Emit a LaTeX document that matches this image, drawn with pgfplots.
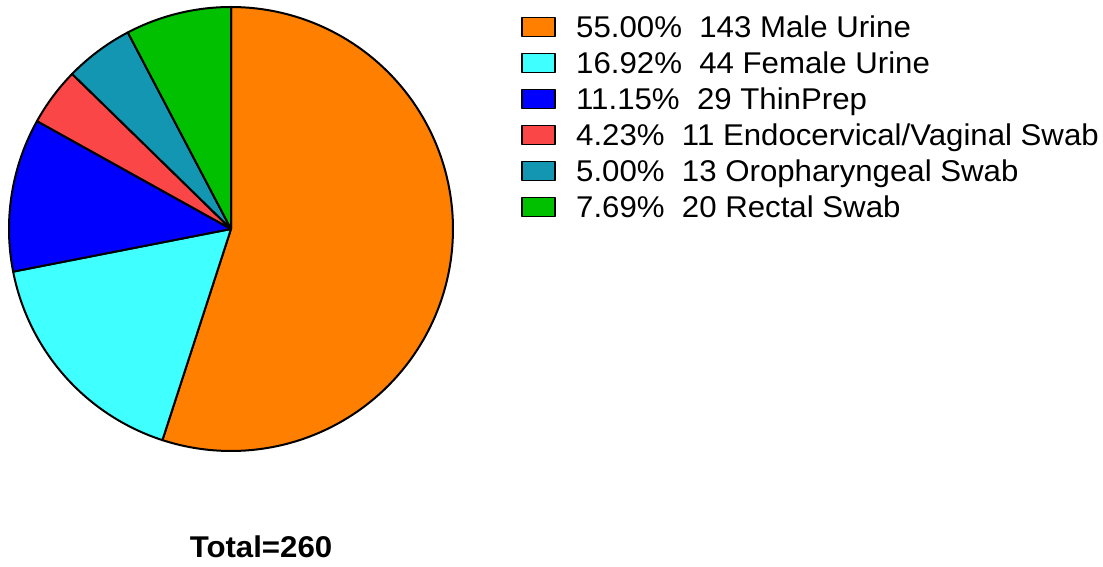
\documentclass[border=0pt]{standalone}
\usepackage{fontspec}
\setmainfont{Liberation Sans}[FakeStretch=1.04]
\usepackage{pgfplots}
\pgfplotsset{compat=1.18}
\definecolor{cMale}{HTML}{FF8000}
\definecolor{cFemale}{HTML}{40FFFF}
\definecolor{cThin}{HTML}{0000FF}
\definecolor{cEndo}{HTML}{FA4646}
\definecolor{cOro}{HTML}{1296B2}
\definecolor{cRect}{HTML}{00C000}
% counts: 143, 44, 29, 11, 13, 20 (total 260)
\def\tot{260}
\pgfmathsetmacro\aA{90}
\pgfmathsetmacro\aB{90-(143)/\tot*360}
\pgfmathsetmacro\aC{90-(143+44)/\tot*360}
\pgfmathsetmacro\aD{90-(143+44+29)/\tot*360}
\pgfmathsetmacro\aE{90-(143+44+29+11)/\tot*360}
\pgfmathsetmacro\aF{90-(143+44+29+11+13)/\tot*360}
\pgfmathsetmacro\aG{90-(143+44+29+11+13+20)/\tot*360}
\newcommand\slice[3]{%
  \addplot[fill=#1, draw=black, line width=2pt, line join=round, domain=#2:#3, samples=120]
    ({231+222*cos(x)},{-229+222*sin(x)}) -- (axis cs:231,-229) -- cycle;}
\begin{document}
\begin{tikzpicture}
\begin{axis}[
  scale only axis, width=1103pt, height=567pt,
  xmin=0, xmax=1103, ymin=-567, ymax=0,
  hide axis, clip=false,
  area legend,
  legend image code/.code={\draw[#1, line width=1.5pt] (0pt,-9.5pt) rectangle (33pt,9.5pt);},
  legend style={draw=none, fill=none, at={(axis cs:521,-15)}, anchor=north west,
    inner sep=0pt, row sep=12pt, column sep=20.5pt,
    font=\fontsize{30}{36}\selectfont,
    nodes={inner sep=0pt, text height=22pt, text depth=2pt}},
  legend cell align=left,
]
\path (axis cs:0,0) rectangle (axis cs:1103,-567);
\slice{cMale}{\aB}{\aA}
\addlegendentry{55.00\%\ \ 143 Male Urine}
\slice{cFemale}{\aC}{\aB}
\addlegendentry{16.92\%\ \ 44 Female Urine}
\slice{cThin}{\aD}{\aC}
\addlegendentry{11.15\%\ \ 29 ThinPrep}
\slice{cEndo}{\aE}{\aD}
\addlegendentry{4.23\%\ \ 11 Endocervical/Vaginal Swab}
\slice{cOro}{\aF}{\aE}
\addlegendentry{5.00\%\ \ 13 Oropharyngeal Swab}
\slice{cRect}{\aG}{\aF}
\addlegendentry{7.69\%\ \ 20 Rectal Swab}
\node[anchor=base, font=\fontsize{30}{36}\selectfont\bfseries] at (axis cs:261,-558) {Total=260};
\end{axis}
\end{tikzpicture}
\end{document}
